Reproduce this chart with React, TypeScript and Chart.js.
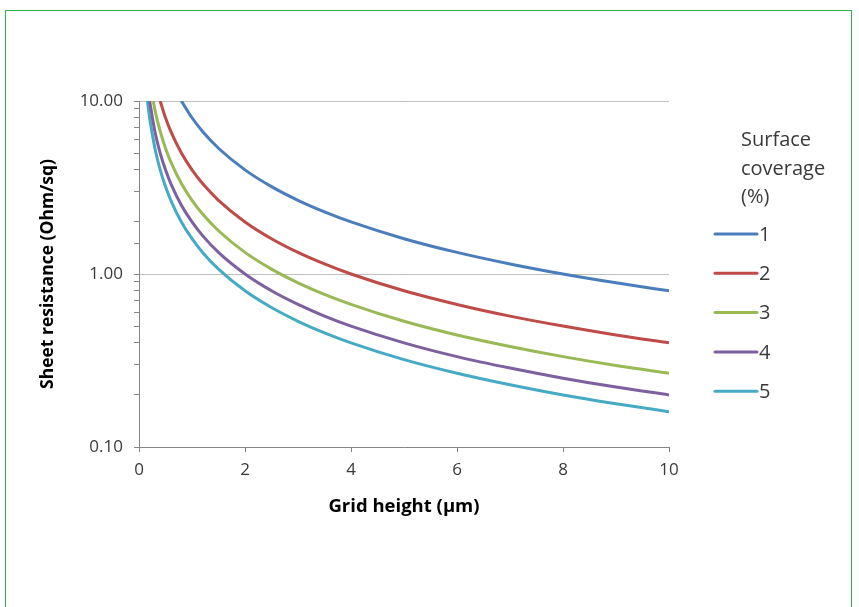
import React, { useEffect, useRef } from "react";
import { Chart, registerables } from "chart.js";

Chart.register(...registerables);

const seriesLabels = ["1", "2", "3", "4", "5"];
const seriesColors = ["#4a7ebb", "#be4b48", "#98b954", "#7d60a0", "#46aac5"];

// Grid height (µm) and sheet resistance (Ohm/sq)
const height1 = [0.8, 1, 1.2, 1.5, 2, 2.5, 3, 3.5, 4, 5, 6, 7, 8, 9, 10];
const resist1 = [10, 8, 6.667, 5.333, 4, 3.2, 2.667, 2.286, 2, 1.6, 1.333, 1.143, 1.0, 0.889, 0.8];

const height2 = [0.4, 0.5, 0.6, 0.8, 1, 1.2, 1.5, 2, 2.5, 3, 3.5, 4, 5, 6, 7, 8, 9, 10];
const resist2 = [10, 8, 6.667, 5, 4, 3.333, 2.667, 2, 1.6, 1.333, 1.143, 1.0, 0.8, 0.667, 0.571, 0.5, 0.444, 0.4];

const height3 = [0.27, 0.3, 0.4, 0.5, 0.6, 0.8, 1, 1.2, 1.5, 2, 2.5, 3, 3.5, 4, 5, 6, 7, 8, 9, 10];
const resist3 = [10, 8.889, 6.667, 5.333, 4.444, 3.333, 2.667, 2.222, 1.778, 1.333, 1.067, 0.889, 0.762, 0.667, 0.533, 0.444, 0.381, 0.333, 0.296, 0.267];

const height4 = [0.2, 0.3, 0.4, 0.5, 0.6, 0.8, 1, 1.2, 1.5, 2, 2.5, 3, 3.5, 4, 5, 6, 7, 8, 9, 10];
const resist4 = [10, 6.667, 5, 4, 3.333, 2.5, 2, 1.667, 1.333, 1.0, 0.8, 0.667, 0.571, 0.5, 0.4, 0.333, 0.286, 0.25, 0.222, 0.2];

const height5 = [0.16, 0.2, 0.3, 0.4, 0.5, 0.6, 0.8, 1, 1.2, 1.5, 2, 2.5, 3, 3.5, 4, 5, 6, 7, 8, 9, 10];
const resist5 = [10, 8, 5.333, 4, 3.2, 2.667, 2, 1.6, 1.333, 1.067, 0.8, 0.64, 0.533, 0.457, 0.4, 0.32, 0.267, 0.229, 0.2, 0.178, 0.16];

const heights = [height1, height2, height3, height4, height5];
const resists = [resist1, resist2, resist3, resist4, resist5];

const xTicks = [0, 2, 4, 6, 8, 10];
const yMajorTicks = [0.1, 1, 10];
const legendTitle = ["Surface", "coverage", "(%)"];

const FONT = "'Open Sans', 'Liberation Sans', sans-serif";

const isMajor = (v: number) => yMajorTicks.some((m) => Math.abs(Math.log10(v) - Math.log10(m)) < 1e-6);

const legendPlugin = {
  id: "sideLegend",
  afterDraw(chart: any) {
    const ctx = chart.ctx;
    ctx.save();
    ctx.font = `20px ${FONT}`;
    ctx.fillStyle = "#3a3a3a";
    ctx.textBaseline = "middle";
    ctx.textAlign = "left";
    const tx = 741;
    const titleYs = [140, 169, 197];
    legendTitle.forEach((t, i) => ctx.fillText(t, tx, titleYs[i]));
    const itemY0 = 234;
    const step = 39.3;
    chart.data.datasets.forEach((ds: any, i: number) => {
      const y = itemY0 + i * step;
      ctx.strokeStyle = ds.borderColor;
      ctx.lineWidth = 3;
      ctx.lineCap = "round";
      ctx.beginPath();
      ctx.moveTo(715, y);
      ctx.lineTo(757, y);
      ctx.stroke();
      ctx.fillText(ds.label, 759, y + 1);
    });
    ctx.restore();
  },
};

export default function App() {
  const canvasRef = useRef<HTMLCanvasElement | null>(null);

  useEffect(() => {
    if (!canvasRef.current) return;
    const datasets = seriesLabels.map((label, i) => ({
      label,
      data: heights[i].map((h, j) => ({ x: h, y: resists[i][j] })),
      borderColor: seriesColors[i],
      backgroundColor: seriesColors[i],
      borderWidth: 3,
      pointRadius: 0,
      cubicInterpolationMode: "monotone" as const,
      fill: false,
    }));

    const chart = new Chart(canvasRef.current, {
      type: "line",
      data: { datasets },
      plugins: [legendPlugin],
      options: {
        animation: false,
        responsive: false,
        maintainAspectRatio: false,
        layout: { padding: { left: 38, top: 101, right: 190, bottom: 89 } },
        plugins: {
          legend: { display: false },
          tooltip: { enabled: false },
        },
        scales: {
          x: {
            type: "linear",
            min: 0,
            max: 10,
            afterBuildTicks: (scale: any) => {
              scale.ticks = xTicks.map((v) => ({ value: v }));
            },
            afterFit: (scale: any) => {
              scale.height = 71;
            },
            grid: {
              display: true,
              drawOnChartArea: false,
              drawTicks: true,
              tickLength: 5,
              color: "#868686",
            },
            border: { color: "#868686", width: 1 },
            ticks: {
              color: "#3a3a3a",
              font: { family: FONT, size: 17 },
              padding: 8,
              maxRotation: 0,
            },
            title: {
              display: true,
              text: "Grid height (µm)",
              color: "#000000",
              font: { family: FONT, size: 18.5, weight: "bold" },
              padding: 0,
            },
          },
          y: {
            type: "logarithmic",
            min: 0.1,
            max: 10,
            afterFit: (scale: any) => {
              scale.width = 101;
            },
            grid: {
              display: true,
              drawTicks: true,
              tickLength: 5,
              color: (c: any) => (c.tick && isMajor(c.tick.value) && c.tick.value > 0.15 ? "#bfbfbf" : "rgba(0,0,0,0)"),
              tickColor: "#868686",
            },
            border: { color: "#868686", width: 1 },
            ticks: {
              autoSkip: false,
              color: "#3a3a3a",
              font: { family: FONT, size: 17 },
              padding: 11,
              callback: (v: any) => (isMajor(Number(v)) ? Number(v).toFixed(2) : ""),
            },
            title: {
              display: true,
              text: "Sheet resistance (Ohm/sq)",
              color: "#000000",
              font: { family: FONT, size: 17.5, weight: "bold" },
              padding: 0,
            },
          },
        },
      },
    });
    return () => chart.destroy();
  }, []);

  return (
    <div style={{ position: "fixed", left: 0, top: 0, width: 859, height: 607, background: "#ffffff", overflow: "hidden" }}>
      <div
        style={{
          position: "absolute",
          left: 5,
          top: 10,
          width: 847,
          height: 700,
          border: "1px solid #2db34a",
          boxSizing: "border-box",
        }}
      />
      <canvas ref={canvasRef} width={859} height={607} style={{ position: "absolute", left: 0, top: 0, width: 859, height: 607 }} />
    </div>
  );
}
